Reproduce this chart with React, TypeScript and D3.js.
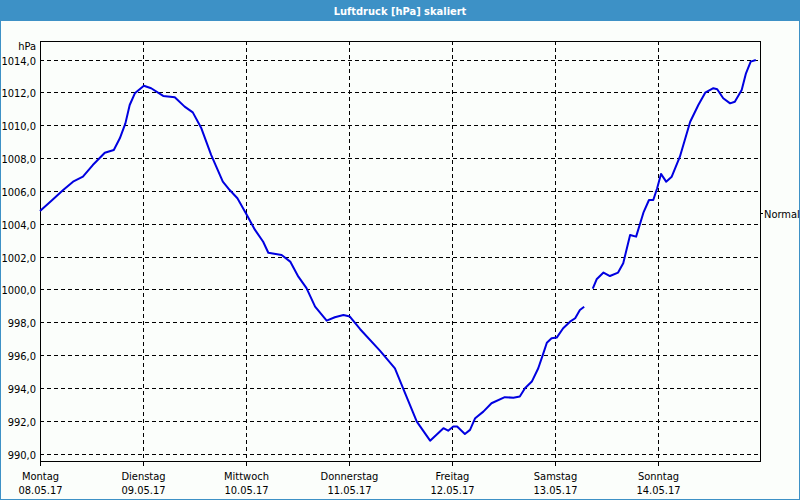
import React from "react";
import * as d3 from "d3";

// hours since Monday 08.05.17 00:00, pressure in hPa
const hoursA = [0, 2.6, 5.4, 7.7, 10.0, 12.3, 15.1, 17.2, 18.6, 19.9, 20.9, 22.1, 24.2, 25.9, 28.7, 31.4, 33.7, 35.6, 37.6, 39.9, 42.6, 44.2, 46.0, 48.2, 50.1, 52.0, 53.2, 56.3, 58.3, 60.2, 62.1, 64.1, 66.8, 68.7, 70.7, 72.2, 74.6, 79.2, 82.7, 85.4, 87.8, 90.9, 94.0, 95.1, 96.3, 97.2, 99.0, 100.2, 101.4, 103.3, 105.2, 108.3, 110.3, 111.8, 113.0, 114.6, 116.1, 117.3, 118.1, 119.2, 120.4, 121.9, 123.5, 124.7, 125.8, 126.8];
const pressureA = [1004.77, 1005.38, 1006.05, 1006.56, 1006.86, 1007.57, 1008.32, 1008.49, 1009.2, 1010.11, 1011.23, 1011.94, 1012.4, 1012.25, 1011.78, 1011.7, 1011.13, 1010.78, 1009.81, 1008.18, 1006.56, 1006.05, 1005.55, 1004.53, 1003.62, 1002.9, 1002.23, 1002.09, 1001.69, 1000.77, 1000.07, 998.95, 998.09, 998.3, 998.44, 998.34, 997.57, 996.27, 995.19, 993.46, 991.94, 990.78, 991.54, 991.39, 991.64, 991.64, 991.19, 991.44, 992.15, 992.55, 993.06, 993.43, 993.4, 993.47, 993.98, 994.38, 995.19, 996.11, 996.75, 997.02, 997.06, 997.63, 998.03, 998.24, 998.74, 998.94];
const hoursB = [128.8, 129.7, 131.3, 132.8, 134.7, 135.9, 137.5, 138.9, 140.6, 141.9, 142.9, 143.8, 144.7, 145.9, 147.2, 149.1, 151.5, 153.4, 155.0, 156.9, 157.8, 159.2, 160.8, 161.9, 163.5, 164.5, 165.6, 166.8];
const pressureB = [1000.04, 1000.61, 1001.02, 1000.81, 1001.02, 1001.59, 1003.31, 1003.21, 1004.67, 1005.44, 1005.44, 1006.16, 1007.03, 1006.56, 1006.86, 1008.08, 1010.21, 1011.23, 1011.98, 1012.25, 1012.19, 1011.64, 1011.33, 1011.43, 1012.14, 1013.16, 1013.87, 1013.97];

const dayNames = ["Montag", "Dienstag", "Mittwoch", "Donnerstag", "Freitag", "Samstag", "Sonntag"];
const dayDates = ["08.05.17", "09.05.17", "10.05.17", "11.05.17", "12.05.17", "13.05.17", "14.05.17"];
const yTicks = [990, 992, 994, 996, 998, 1000, 1002, 1004, 1006, 1008, 1010, 1012, 1014];
const normalValue = 1004.65;
const title = "Luftdruck [hPa] skaliert";
const unit = "hPa";
const normalLabel = "Normal";

const W = 800, H = 500;
const L = 40, R = 760, T = 41, B = 461;
const FONT = "'DejaVu Sans Condensed', 'DejaVu Sans', sans-serif";

export default function App() {
  const x = d3.scaleLinear().domain([0, 168]).range([L, L + 7 * 103]);
  const y = d3.scaleLinear().domain([990, 1014]).range([453.5, 59.5]);
  const line = d3.line<[number, number]>().x(d => x(d[0])).y(d => y(d[1]));
  const segA = hoursA.map((h, i) => [h, pressureA[i]] as [number, number]);
  const segB = hoursB.map((h, i) => [h, pressureB[i]] as [number, number]);
  const fmt = (v: number) => v.toFixed(1).replace(".", ",");
  return (
    <svg width={W} height={H} style={{ position: "absolute", left: 0, top: 0 }} fontFamily={FONT}>
      <rect x={0} y={0} width={W} height={H} fill="#fbfefb" />
      <rect x={0} y={0} width={W} height={21} fill="#3d91c6" />
      <rect x={0.5} y={0.5} width={W - 1} height={H - 1} fill="none" stroke="#3d91c6" />
      <text x={W / 2} y={15} textAnchor="middle" fill="#fff" fontWeight="bold" fontSize={11}>{title}</text>
      {/* horizontal grid */}
      {yTicks.map(t => (
        <g key={t}>
          <line x1={L} x2={R} y1={Math.round(y(t)) + 0.5} y2={Math.round(y(t)) + 0.5} stroke="#000" strokeDasharray="4,3" />
          <text x={36} y={Math.round(y(t)) + 5} textAnchor="end" fontSize={11} fill="#000">{fmt(t)}</text>
        </g>
      ))}
      {/* vertical grid */}
      {dayNames.map((d, i) => {
        const xx = Math.round(x(i * 24)) + 0.5;
        return (
          <g key={d}>
            <line x1={xx} x2={xx} y1={T} y2={B} stroke="#000" strokeDasharray="4,3" />
            <line x1={xx} x2={xx} y1={B} y2={B + 5} stroke="#000" />
            <text x={xx} y={480} textAnchor="middle" fontSize={11} fill="#000">{d}</text>
            <text x={xx} y={494} textAnchor="middle" fontSize={11} fill="#000">{dayDates[i]}</text>
          </g>
        );
      })}
      <rect x={L + 0.5} y={T + 0.5} width={R - L} height={B - T} fill="none" stroke="#000" />
      <text x={36} y={50} textAnchor="end" fontSize={11} fill="#000">{unit}</text>
      <line x1={R} x2={R + 3} y1={Math.round(y(normalValue)) + 0.5} y2={Math.round(y(normalValue)) + 0.5} stroke="#000" />
      <text x={764} y={Math.round(y(normalValue)) + 5} fontSize={11} fill="#000">{normalLabel}</text>
      <path d={line(segA) || ""} fill="none" stroke="#0000e0" strokeWidth={2} strokeLinejoin="round" />
      <path d={line(segB) || ""} fill="none" stroke="#0000e0" strokeWidth={2} strokeLinejoin="round" />
    </svg>
  );
}
